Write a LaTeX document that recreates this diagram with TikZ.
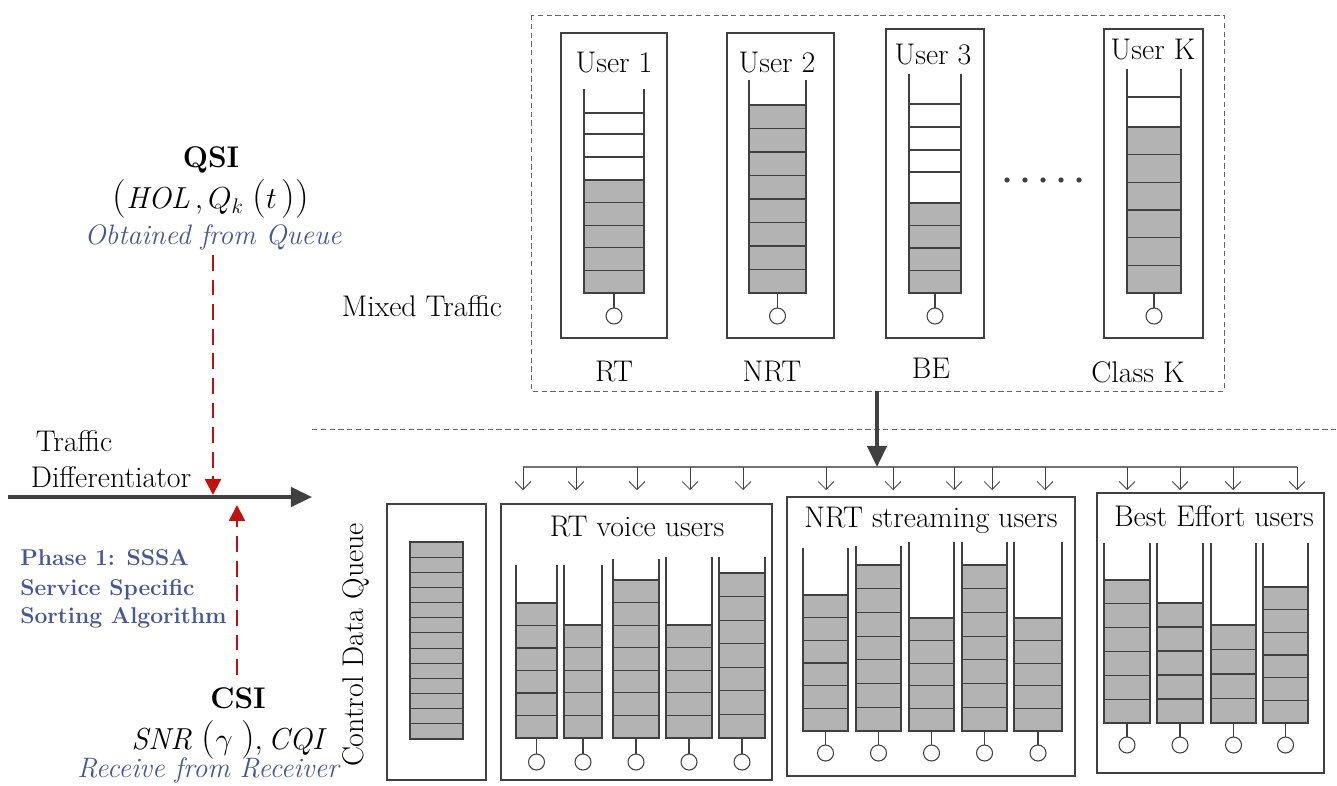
\documentclass[tikz,border=0pt]{standalone}
\usepackage{tikz}
\usetikzlibrary{arrows.meta}
\definecolor{qgray}{RGB}{179,179,179}
\definecolor{qedge}{RGB}{64,64,64}
\definecolor{phaseblue}{RGB}{70,86,150}
\definecolor{infored}{RGB}{192,16,16}
\newcommand{\bigparl}{\mbox{\fontsize{22}{22}\selectfont(}}
\newcommand{\bigparr}{\mbox{\fontsize{22}{22}\selectfont)}}
% queue: (left:right)(rail top:fill top:bottom:cells)(circle y)
\def\pqueue(#1:#2)(#3:#4:#5:#6)(#7){%
	\draw[qline] (#1,#3) -- (#1,#5) (#2,#3) -- (#2,#5);
	\draw[qline, fill=qgray] (#1,#4) rectangle (#2,#5);
	\pgfmathsetmacro\qcell{(#5-#4)/#6}
	\pgfmathtruncatemacro\qlast{#6-1}
	\foreach \k in {1,...,\qlast} {\draw[qline] (#1,{#5-\k*\qcell}) -- (#2,{#5-\k*\qcell});}
	\draw[qline] ({(#1+#2)/2},#5) -- ({(#1+#2)/2},#7-8);
	\draw[qline, fill=white] ({(#1+#2)/2},#7) circle (8);
}

\begin{document}
\begin{tikzpicture}[x=0.02cm, y=-0.02cm,
	qline/.style={draw=qedge, line width=0.6pt},
	ubox/.style={draw=qedge, line width=0.6pt},
	lbl/.style={font=\fontsize{17}{20}\selectfont, inner sep=0pt},
	boldlbl/.style={font=\fontsize{17}{20}\selectfont\bfseries, inner sep=0pt},
	info/.style={font=\fontsize{16}{19}\selectfont\itshape, text=phaseblue, inner sep=0pt},
	phase/.style={font=\fontsize{13}{16}\selectfont\bfseries, text=phaseblue, inner sep=0pt, anchor=west},
	redarrow/.style={draw=infored, line width=1.3pt, dash pattern=on 9pt off 5pt, -{Triangle[length=9pt,width=9pt]}},
	tap/.style={draw=qedge, line width=0.5pt, -{Straight Barb[length=4.5pt,width=9pt]}},
	bus/.style={draw=black!55, line width=1pt},
	fatarrow/.style={draw=black!75, line width=2pt, -{Triangle[length=12pt,width=11pt]}},
	dashbox/.style={draw=black!60, line width=0.5pt, dash pattern=on 3pt off 2pt}]
	%%%%% START %%%%%
	\useasboundingbox (0,0) rectangle (1337,785);
	
	% left side: differentiator
	\node[boldlbl] (qsi) at (211,160) {QSI};
	\node[lbl] (qsiform) at (211,199) {$\bigparl\mathit{HOL}\,, Q_k\;\bigparl t\,\bigparr\bigparr$};
	\node[info] (qsisrc) at (213,237) {Obtained from Queue};
	\node[lbl] (traffic) at (74,441) {Traffic};
	\node[lbl] (differ) at (111,477) {Differentiator};
	\coordinate (diffin) at (8,497);
	\coordinate (diffout) at (312,497);
	\coordinate (qsitap) at (213,495);
	\coordinate (csitap) at (237,505);
	\draw[fatarrow] (diffin) -- (diffout);
	\draw[redarrow] (qsisrc.south |- 0,255) -- (qsitap);
	
	\node[phase] (phase) at (20,558) {Phase 1: SSSA};
	\node[phase] (phasea) at (20,590) {Service Specific};
	\node[phase] (phaseb) at (20,618) {Sorting Algorithm};
	
	\node[boldlbl] (csi) at (238,698) {CSI};
	\node[lbl] (csiform) at (230,740) {$\mathit{SNR}\;\bigparl\gamma\;\bigparr, \mathit{CQI}$};
	\node[info] (csisrc) at (208,770) {Receive from Receiver};
	\draw[redarrow] (csitap |- 0,675) -- (csitap);
	
	% mixed traffic box
	\draw[dashbox] (531,15) rectangle (1224,391);
	\node[lbl] (mixed) at (422,306) {Mixed Traffic};
	
	\draw[ubox] (561,33) rectangle (667,338);
	\draw[ubox] (727,33) rectangle (834,338);
	\draw[ubox] (886,29) rectangle (984,338);
	\draw[ubox] (1104,29) rectangle (1203,338);
	\node[lbl] (user1) at (614,63) {User 1};
	\node[lbl] (user2) at (777,63) {User 2};
	\node[lbl] (user3) at (933,55) {User 3};
	\node[lbl] (userk) at (1153,50) {User K};
	
	\pqueue(584:644)(89:180:293:5)(316)
	\foreach \yy in {113,134,157} {\draw[qline] (584,\yy) -- (644,\yy);}
	\pqueue(749:806)(80:105:293:8)(316)
	\pqueue(909:961)(74:203:293:4)(316)
	\foreach \yy in {104,127,150,172} {\draw[qline] (909,\yy) -- (961,\yy);}
	\pqueue(1127:1181)(69:127:293:6)(316)
	\draw[qline] (1127,97) -- (1181,97);
	
	\foreach \xx in {1007,1025,1043,1061,1079} {\fill[black!75] (\xx,180) circle (2.6);}
	
	\node[lbl] (rt) at (614,372) {RT};
	\node[lbl] (nrt) at (772,372) {NRT};
	\node[lbl] (be) at (931,368) {BE};
	\node[lbl] (classk) at (1138,372) {Class K};
	
	\draw[dashbox] (312,429) -- (1337,429);
	
	% distribution bus
	\coordinate (mixout) at (877,391);
	\coordinate (busin) at (877,467);
	\draw[fatarrow] (mixout) -- (busin);
	\draw[bus] (523,467) -- (1297,467);
	\foreach \xx in {523,576,637,690,743,826,893,954,992,1045,1127,1180,1233,1297} {\draw[tap] (\xx,467) -- (\xx,490);}
	
	% control data queue
	\draw[ubox] (387,504) rectangle (486,780);
	\node[lbl, rotate=90] (ctrl) at (356,645) {Control Data Queue};
	\draw[qline, fill=qgray] (410,542) rectangle (463,739);
	\foreach \k in {1,...,12} {\draw[qline] (410,{542+\k*197/13}) -- (463,{542+\k*197/13});}
	
	% RT voice users
	\draw[ubox] (501,504) rectangle (772,780);
	\node[lbl] (rtvoice) at (637,527) {RT voice users};
	\pqueue(516:557)(565:603:738:6)(762)
	\pqueue(564:602)(565:625:738:5)(762)
	\pqueue(613:659)(559:580:738:7)(762)
	\pqueue(666:712)(557:625:738:5)(762)
	\pqueue(719:765)(557:573:738:7)(762)
	
	% NRT streaming users
	\draw[ubox] (787,497) rectangle (1075,776);
	\node[lbl] (nrtstream) at (931,520) {NRT streaming users};
	\pqueue(803:848)(548:595:731:6)(753)
	\pqueue(856:901)(546:565:731:7)(753)
	\pqueue(909:954)(542:618:731:5)(753)
	\pqueue(962:1007)(542:565:731:7)(753)
	\pqueue(1014:1062)(542:618:731:5)(753)
	
	% best effort users
	\draw[ubox] (1097,493) rectangle (1324,773);
	\node[lbl] (beusers) at (1214,516) {Best Effort users};
	\pqueue(1104:1150)(543:580:723:6)(745)
	\pqueue(1157:1203)(543:603:723:5)(745)
	\pqueue(1211:1256)(543:625:723:4)(745)
	\pqueue(1263:1308)(543:587:723:6)(745)
	
	%%%%% END %%%%%
\end{tikzpicture}
\end{document}
